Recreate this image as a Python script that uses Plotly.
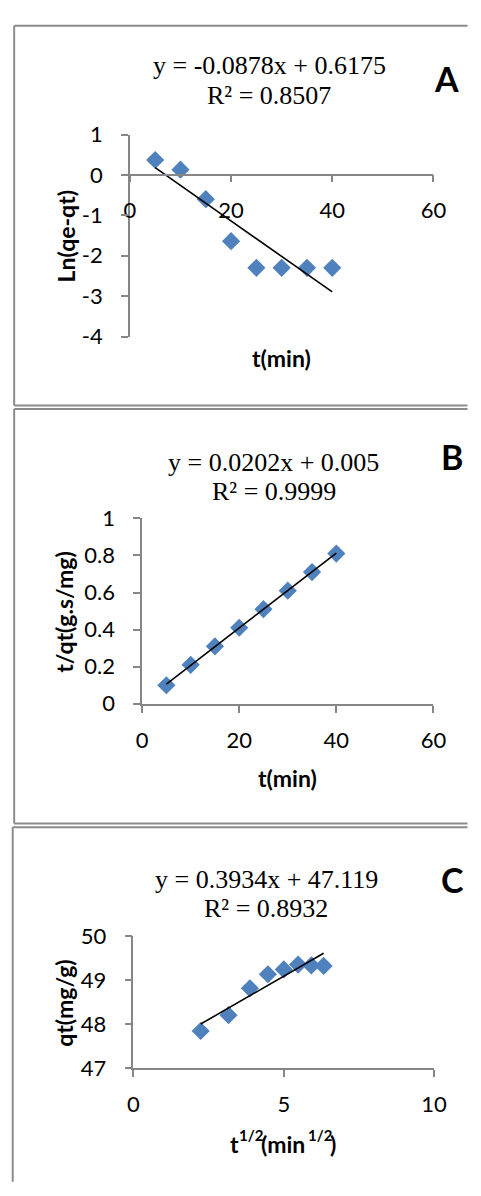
import plotly.graph_objects as go

W, H = 481, 1196

# ---------------- data ----------------
t_min = [5, 10, 15, 20, 25, 30, 35, 40]
ln_qe_qt = [0.37, 0.13, -0.60, -1.64, -2.30, -2.30, -2.30, -2.30]
t_over_qt = [0.10, 0.21, 0.31, 0.41, 0.51, 0.61, 0.71, 0.81]
sqrt_t = [2.236, 3.162, 3.873, 4.472, 5.000, 5.477, 5.916, 6.325]
qt = [47.84, 48.20, 48.81, 49.13, 49.24, 49.35, 49.33, 49.32]

fit_slopes = [-0.0878, 0.0202, 0.3934]
fit_intercepts = [0.6175, 0.005, 47.119]
eq_texts = ["y = -0.0878x + 0.6175", "y = 0.0202x + 0.005", "y = 0.3934x + 47.119"]
r2_texts = ["R² = 0.8507", "R² = 0.9999", "R² = 0.8932"]
panel_letters = ["A", "B", "C"]
# x-axis title pieces: (text, is_superscript)
x_title_parts = [[("t(min)", False)],
                 [("t(min)", False)],
                 [("t", False), ("1/2", True), ("(min", False), ("1/2", True), (")", False)]]
y_titles = ["Ln(qe-qt)", "t/qt(g.s/mg)", "qt(mg/g)"]

x_tickvals = [[0, 20, 40, 60], [0, 20, 40, 60], [0, 5, 10]]
x_ticktext = [["0", "20", "40", "60"], ["0", "20", "40", "60"], ["0", "5", "10"]]
y_tickvals = [[1, 0, -1, -2, -3, -4], [0, 0.2, 0.4, 0.6, 0.8, 1], [47, 48, 49, 50]]
y_ticktext = [["1", "0", "-1", "-2", "-3", "-4"],
              ["0", "0.2", "0.4", "0.6", "0.8", "1"],
              ["47", "48", "49", "50"]]

xs_all = [t_min, t_min, sqrt_t]
ys_all = [ln_qe_qt, t_over_qt, qt]

# ---------------- layout geometry (pixels) ----------------
def px(x):
    return x / W

def py(y):
    return 1 - y / H

panels = [
    dict(xd=(129, 445), yd=(123.3, 330.0), xr=[0, 60], yr=[-4, 1], xcross=164.3,
         eq=(274, 53), r2=(274, 83), letter=(459, 66),
         xt=(287, 352), yt=(62, 228), border=(8.5, 12, 400.5)),
    dict(xd=(141.7, 445), yd=(516.0, 705.7), xr=[0, 60], yr=[0, 1], xcross=None,
         eq=(279, 459), r2=(279, 489), letter=(464, 453),
         xt=(293, 782), yt=(61, 612), border=(8.5, 404, 828.3)),
    dict(xd=(132.7, 445.7), yd=(943.3, 1078.3), xr=[0, 10], yr=[47, 50], xcross=None,
         eq=(271, 885), r2=(271, 915), letter=(465, 886),
         xt=(289, 1156), yt=(61, 1012), border=(7, 832, None)),
]
# left edges of the pieces of the split title of panel C
c_title_x = [233, 243, 266, 314, 337.5]

AXIS_GRAY = "#868686"
BORDER_GRAY = "#8c8c8c"
MARKER_BLUE = "#4F81BD"
TICK_FONT = dict(family="Lato", size=22, color="black")
TITLE_FONT = dict(family="Lato", size=23, color="black")
SUP_FONT = dict(family="Lato", size=15, color="black")
EQ_FONT = dict(family="Liberation Serif", size=26, color="black")

fig = go.Figure()
layout = dict(width=W, height=H, margin=dict(l=0, r=0, t=0, b=0),
              paper_bgcolor="white", plot_bgcolor="rgba(0,0,0,0)",
              showlegend=False, annotations=[], shapes=[])

for i, p in enumerate(panels):
    n = i + 1
    xa = "x" if n == 1 else f"x{n}"
    ya = "y" if n == 1 else f"y{n}"
    xs = xs_all[i]
    ys = ys_all[i]
    fig.add_trace(go.Scatter(x=xs, y=ys, mode="markers", xaxis=xa, yaxis=ya,
                             marker=dict(symbol="diamond", size=14, color=MARKER_BLUE,
                                         line=dict(width=0)),
                             cliponaxis=False, hoverinfo="skip"))
    x_line = [min(xs), max(xs)]
    y_line = [fit_slopes[i] * v + fit_intercepts[i] for v in x_line]
    fig.add_trace(go.Scatter(x=x_line, y=y_line, mode="lines", xaxis=xa, yaxis=ya,
                             line=dict(color="black", width=1.6),
                             cliponaxis=False, hoverinfo="skip"))

    xkey = "xaxis" if n == 1 else f"xaxis{n}"
    ykey = "yaxis" if n == 1 else f"yaxis{n}"
    xdom = [px(p["xd"][0]), px(p["xd"][1])]
    ydom = [py(p["yd"][1]), py(p["yd"][0])]
    xaxis = dict(domain=xdom, range=p["xr"], showgrid=False, zeroline=False,
                 showline=True, linecolor=AXIS_GRAY, linewidth=1.5,
                 ticks="outside", ticklen=7, tickwidth=1.5, tickcolor=AXIS_GRAY,
                 tickvals=x_tickvals[i], ticktext=x_ticktext[i], tickfont=TICK_FONT,
                 ticklabelstandoff=9, fixedrange=True)
    if p["xcross"] is not None:
        xaxis.update(anchor="free", position=py(p["xcross"]))
    else:
        xaxis.update(anchor=ya)
    yaxis = dict(domain=ydom, range=p["yr"], anchor=xa, showgrid=False, zeroline=False,
                 showline=True, linecolor=AXIS_GRAY, linewidth=1.5,
                 ticks="outside", ticklen=7, tickwidth=1.5, tickcolor=AXIS_GRAY,
                 tickvals=y_tickvals[i], ticktext=y_ticktext[i], tickfont=TICK_FONT,
                 ticklabelstandoff=14, fixedrange=True)
    layout[xkey] = xaxis
    layout[ykey] = yaxis

    ann = layout["annotations"]
    ann.append(dict(text=eq_texts[i], x=px(p["eq"][0]), y=py(p["eq"][1]),
                    xref="paper", yref="paper", showarrow=False,
                    xanchor="center", yanchor="middle", font=EQ_FONT))
    ann.append(dict(text=r2_texts[i], x=px(p["r2"][0]), y=py(p["r2"][1]),
                    xref="paper", yref="paper", showarrow=False,
                    xanchor="center", yanchor="middle", font=EQ_FONT))
    ann.append(dict(text="<b>" + panel_letters[i] + "</b>", x=px(p["letter"][0]),
                    y=py(p["letter"][1]), xref="paper", yref="paper", showarrow=False,
                    xanchor="center", yanchor="middle", borderpad=0, borderwidth=0,
                    font=dict(family="Lato", size=34, color="black")))
    parts = x_title_parts[i]
    if len(parts) == 1:
        ann.append(dict(text="<b>" + parts[0][0] + "</b>", x=px(p["xt"][0]),
                        y=py(p["xt"][1]), xref="paper", yref="paper", showarrow=False,
                        xanchor="center", yanchor="middle", font=TITLE_FONT))
    else:
        for (txt, is_sup), xl in zip(parts, c_title_x):
            yc = p["xt"][1] - 9 if is_sup else p["xt"][1]
            ann.append(dict(text="<b>" + txt + "</b>", x=px(xl), y=py(yc),
                            xref="paper", yref="paper", showarrow=False,
                            xanchor="left", yanchor="middle", borderpad=0, borderwidth=0,
                            font=SUP_FONT if is_sup else TITLE_FONT))
    ann.append(dict(text="<b>" + y_titles[i] + "</b>", x=px(p["yt"][0]), y=py(p["yt"][1]),
                    xref="paper", yref="paper", showarrow=False, textangle=-90,
                    xanchor="center", yanchor="middle", font=TITLE_FONT))

    # panel frame (left, top, bottom edges; the right edge lies outside the picture)
    bx, btop, bbot = p["border"]
    line_style = dict(color=BORDER_GRAY, width=2)
    ybot = py(bbot) if bbot is not None else 0.001
    layout["shapes"].append(dict(type="line", xref="paper", yref="paper",
                                 x0=px(bx), x1=px(bx), y0=ybot, y1=py(btop),
                                 line=line_style, layer="below"))
    layout["shapes"].append(dict(type="line", xref="paper", yref="paper",
                                 x0=px(bx), x1=0.999, y0=py(btop), y1=py(btop),
                                 line=line_style, layer="below"))
    if bbot is not None:
        layout["shapes"].append(dict(type="line", xref="paper", yref="paper",
                                     x0=px(bx), x1=0.999, y0=py(bbot), y1=py(bbot),
                                     line=line_style, layer="below"))

fig.update_layout(**layout)
fig.write_html("out.html", config={"displayModeBar": False},
               post_script="document.body.style.margin='0px';"
                           "document.body.style.padding='0px';"
                           "document.documentElement.style.overflow='hidden';"
                           "document.body.style.overflow='hidden';")
